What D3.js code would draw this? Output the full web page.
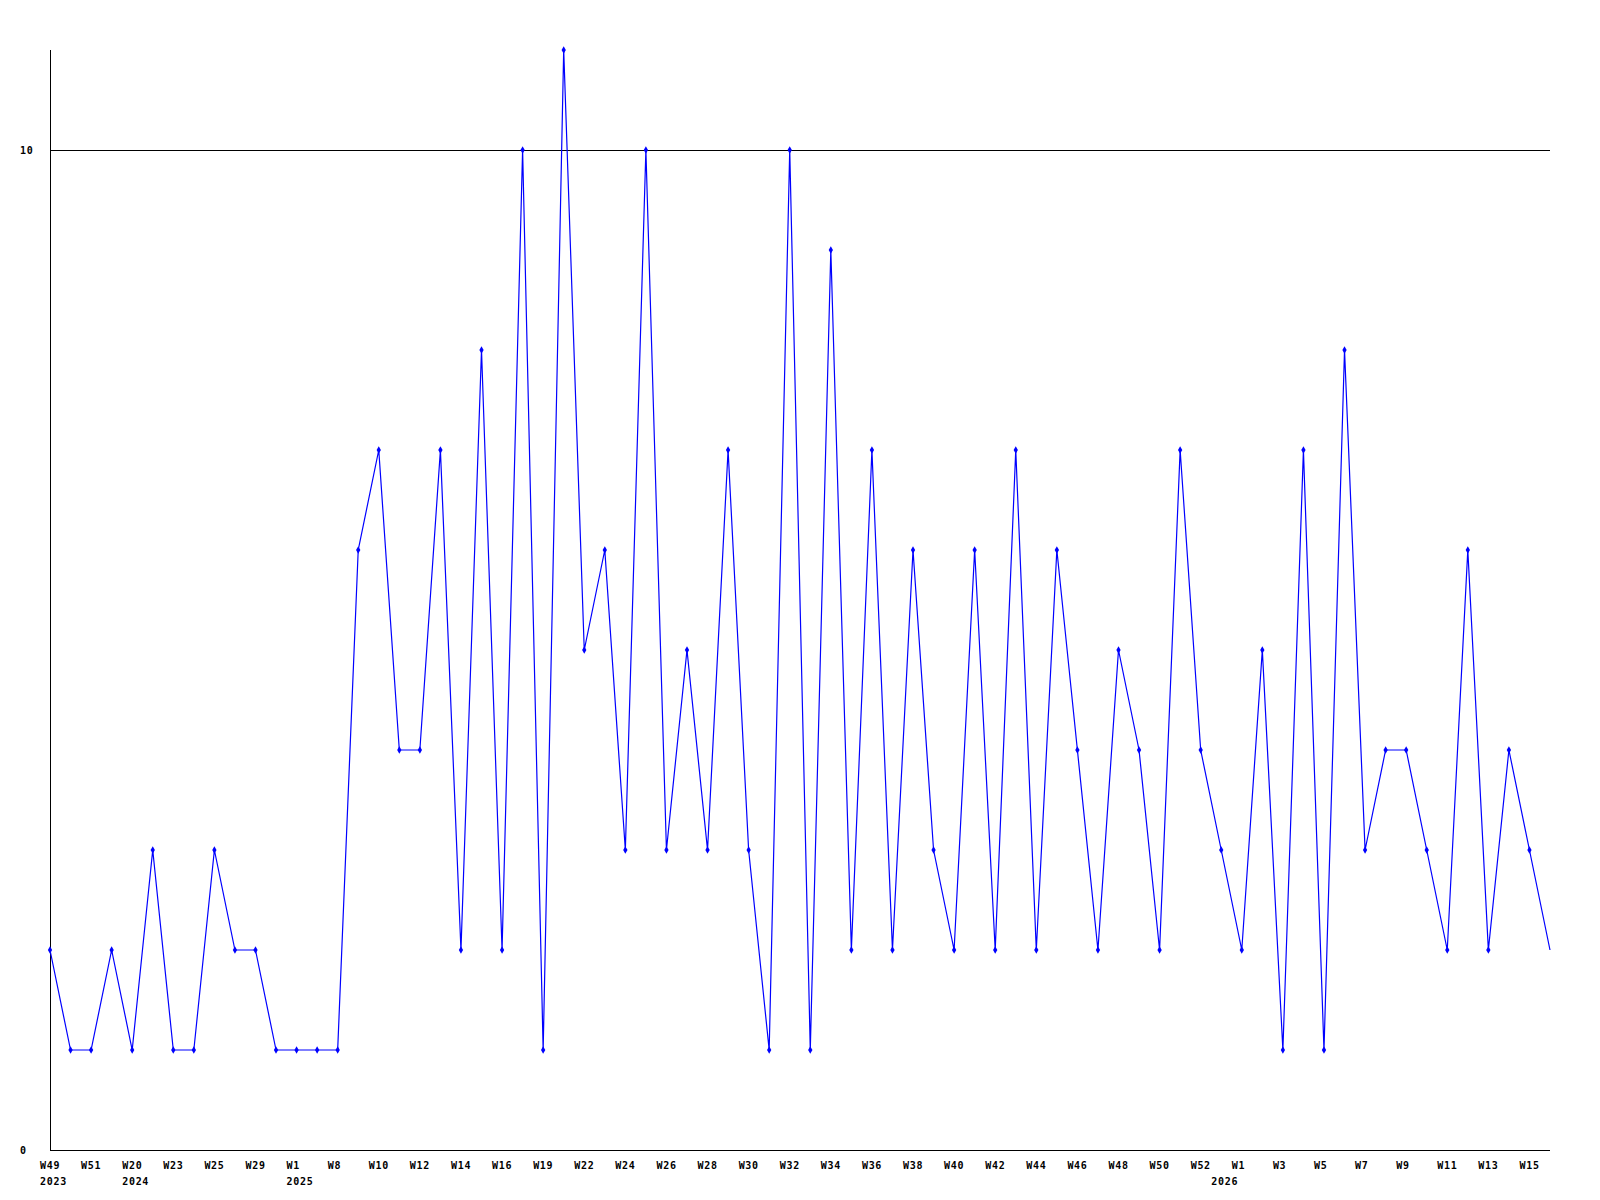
<!DOCTYPE html>
<html>
<head>
<meta charset="utf-8">
<script src="https://cdn.jsdelivr.net/npm/d3@7"></script>
<style>
  html, body { margin: 0; padding: 0; background: #fff; }
  svg { display: block; }
  text { font-family: "DejaVu Sans Mono", "Liberation Mono", monospace; font-weight: bold; font-size: 10px; letter-spacing: 0.7px; fill: #000; }
</style>
</head>
<body>
<script>
// Weekly values, one per data point (74 points)
const values = [
  2, 1, 1, 2, 1, 3, 1, 1, 3, 2,
  2, 1, 1, 1, 1, 6, 7, 4, 4, 7,
  2, 8, 2, 10, 1, 11, 5, 6, 3, 10,
  3, 5, 3, 7, 3, 1, 10, 1, 9, 2,
  7, 2, 6, 3, 2, 6, 2, 7, 2, 6,
  4, 2, 5, 4, 2, 7, 4, 3, 2, 5,
  1, 7, 1, 8, 3, 4, 4, 3, 2, 6,
  2, 4, 3, 2
];
// Tick labels shown on every other point
const tickLabels = [
  "W49", "W51", "W20", "W23", "W25", "W29", "W1", "W8", "W10", "W12",
  "W14", "W16", "W19", "W22", "W24", "W26", "W28", "W30", "W32", "W34",
  "W36", "W38", "W40", "W42", "W44", "W46", "W48", "W50", "W52", "W1",
  "W3", "W5", "W7", "W9", "W11", "W13", "W15"
];
// Year labels and the point (category index) each one sits under
const yearLabels = ["2023", "2024", "2025", "2026"];
const yearPoints = [0, 4, 12, 57];
const yTicks = [0, 10];
const yMax = 11;

(function () {
  const W = 1600, H = 1200;
  const mLeft = 50, mRight = 1550, mTop = 50, mBottom = 1150;

  const svg = d3.select("body").append("svg").attr("width", W).attr("height", H);

  const x = d3.scalePoint().domain(d3.range(values.length)).range([mLeft, mRight]);
  const y = d3.scaleLinear().domain([0, yMax]).range([mBottom, mTop]);

  // grid line(s) above zero
  svg.append("g").selectAll("line").data(yTicks.filter(d => d > 0)).join("line")
    .attr("x1", mLeft).attr("x2", mRight)
    .attr("y1", d => y(d) + 0.5).attr("y2", d => y(d) + 0.5)
    .attr("stroke", "#000").attr("stroke-width", 1).attr("shape-rendering", "crispEdges");

  // axes
  svg.append("line").attr("x1", mLeft + 0.5).attr("x2", mLeft + 0.5).attr("y1", mTop).attr("y2", mBottom + 1)
    .attr("stroke", "#000").attr("shape-rendering", "crispEdges");
  svg.append("line").attr("x1", mLeft).attr("x2", mRight).attr("y1", mBottom + 0.5).attr("y2", mBottom + 0.5)
    .attr("stroke", "#000").attr("shape-rendering", "crispEdges");

  // y labels
  svg.append("g").selectAll("text").data(yTicks).join("text")
    .attr("x", 20).attr("y", d => y(d) + 4)
    .text(d => d);

  // x labels
  const labelIdx = tickLabels.map((_, k) => k * 2);
  svg.append("g").selectAll("text").data(tickLabels).join("text")
    .attr("x", (d, k) => x(labelIdx[k]) - 10).attr("y", 1169)
    .text(d => d);
  svg.append("g").selectAll("text").data(yearLabels).join("text")
    .attr("x", (d, k) => x(yearPoints[k]) - 10).attr("y", 1185)
    .text(d => d);

  // line
  const line = d3.line().x((d, i) => x(i)).y(d => y(d));
  svg.append("path").datum(values)
    .attr("d", line).attr("fill", "none").attr("stroke", "#0000ff").attr("stroke-width", 1.2);

  // markers (all but the last point)
  svg.append("g").selectAll("path").data(values.slice(0, values.length - 1)).join("path")
    .attr("transform", (d, i) => `translate(${x(i)},${y(d)})`)
    .attr("d", d3.symbol().type(d3.symbolDiamond).size(16))
    .attr("fill", "#0000ff");
})();
</script>
</body>
</html>
